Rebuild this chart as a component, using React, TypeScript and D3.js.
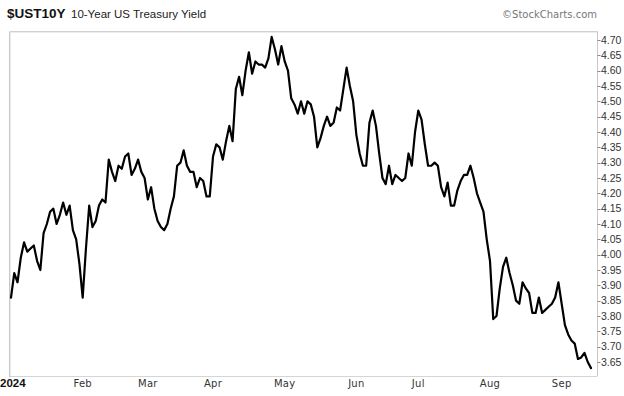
import React from "react";
import * as d3 from "d3";

const title = "$UST10Y";
const subtitle = "10-Year US Treasury Yield";
const credit = "\u00A9StockCharts.com";

const startDate = "2023-12-29";
const holidays = ["2024-01-01", "2024-01-15", "2024-02-19", "2024-03-29", "2024-05-27", "2024-06-19", "2024-07-04", "2024-09-02"];

const yields = [
  3.86, 3.94, 3.91, 3.99, 4.04, 4.01, 4.02, 4.03, 3.98, 3.95,
  4.07, 4.10, 4.14, 4.15, 4.10, 4.13, 4.17, 4.13, 4.16, 4.08,
  4.05, 3.97, 3.86, 4.02, 4.16, 4.09, 4.11, 4.16, 4.18, 4.17,
  4.31, 4.27, 4.24, 4.29, 4.28, 4.32, 4.33, 4.26, 4.28, 4.31,
  4.27, 4.25, 4.18, 4.22, 4.15, 4.11, 4.09, 4.08, 4.10, 4.15,
  4.19, 4.29, 4.30, 4.34, 4.29, 4.27, 4.27, 4.22, 4.25, 4.24,
  4.19, 4.19, 4.32, 4.36, 4.35, 4.31, 4.37, 4.42, 4.37, 4.54,
  4.58, 4.52, 4.60, 4.66, 4.59, 4.63, 4.62, 4.62, 4.61, 4.64,
  4.71, 4.67, 4.62, 4.68, 4.63, 4.60, 4.51, 4.49, 4.46, 4.50,
  4.46, 4.50, 4.49, 4.45, 4.35, 4.38, 4.42, 4.45, 4.42, 4.43,
  4.48, 4.47, 4.54, 4.61, 4.55, 4.50, 4.39, 4.33, 4.29, 4.29,
  4.43, 4.47, 4.42, 4.33, 4.25, 4.23, 4.29, 4.23, 4.26, 4.25,
  4.24, 4.25, 4.33, 4.29, 4.40, 4.47, 4.44, 4.36, 4.29, 4.29,
  4.30, 4.29, 4.22, 4.19, 4.235, 4.16, 4.16, 4.21, 4.24, 4.26,
  4.26, 4.29, 4.25, 4.20, 4.17, 4.14, 4.05, 3.98, 3.79, 3.80,
  3.89, 3.96, 3.99, 3.94, 3.90, 3.85, 3.84, 3.91, 3.89, 3.875,
  3.81, 3.81, 3.86, 3.81, 3.82, 3.83, 3.84, 3.86, 3.91, 3.84,
  3.77, 3.74, 3.72, 3.71, 3.66, 3.665, 3.68, 3.65, 3.63,
];

const yTicks = [4.70, 4.65, 4.60, 4.55, 4.50, 4.45, 4.40, 4.35, 4.30, 4.25, 4.20, 4.15, 4.10, 4.05, 4.00, 3.95, 3.90, 3.85, 3.80, 3.75, 3.70, 3.65];

// build trading-day calendar
const parse = d3.timeParse("%Y-%m-%d");
const fmt = d3.timeFormat("%Y-%m-%d");
const holidaySet = new Set(holidays);
const dates: Date[] = [];
{
  let d = parse(startDate) as Date;
  while (dates.length < yields.length) {
    const wd = d.getDay();
    if (wd !== 0 && wd !== 6 && !holidaySet.has(fmt(d))) dates.push(d);
    d = d3.timeDay.offset(d, 1);
  }
}

const W = 624;
const H = 396;
const frame = { left: 9.5, right: 597.5, top: 31.5, bottom: 376.5 };

export default function App() {
  const x = d3.scaleLinear().domain([0, yields.length - 1]).range([11, 591]);
  const y = d3.scaleLinear().domain([3.65, 4.70]).range([362, 40]);

  const line = d3
    .line<number>()
    .x((_, i) => x(i))
    .y((v) => y(v))
    .curve(d3.curveLinear);

  const monthTicks: { i: number; label: string }[] = [];
  dates.forEach((d, i) => {
    if (i > 0 && d.getMonth() !== dates[i - 1].getMonth()) {
      monthTicks.push({ i, label: d.getMonth() === 0 ? String(d.getFullYear()) : d3.timeFormat("%b")(d) });
    }
  });

  return (
    <svg
      width={W}
      height={H}
      style={{ position: "absolute", left: 0, top: 0, background: "#fff" }}
      xmlns="http://www.w3.org/2000/svg"
    >
      <rect x={0} y={0} width={W} height={H} fill="#fff" />
      <text x={7} y={18} fontFamily="Liberation Sans, Arial, sans-serif" fontWeight="bold" fontSize={13.5} fill="#111">
        {title}
      </text>
      <text x={71} y={18} fontFamily="Liberation Sans, Arial, sans-serif" fontSize={11.5} fill="#222">
        {subtitle}
      </text>
      <text x={597} y={18} textAnchor="end" fontFamily="DejaVu Sans, Verdana, sans-serif" fontSize={10} fill="#777">
        {credit}
      </text>

      {/* frame */}
      <line x1={frame.left} x2={frame.right} y1={frame.top} y2={frame.top} stroke="#d0d0d0" strokeWidth={1} />
      <line x1={frame.left} x2={frame.right} y1={frame.top + 1} y2={frame.top + 1} stroke="#ececec" strokeWidth={1} />
      <line x1={frame.left} x2={frame.left} y1={frame.top} y2={frame.bottom} stroke="#c8c8c8" strokeWidth={1} />
      <line x1={frame.left + 1} x2={frame.left + 1} y1={frame.top} y2={frame.bottom} stroke="#ececec" strokeWidth={1} />
      <line x1={frame.right} x2={frame.right} y1={frame.top} y2={frame.bottom} stroke="#c8c8c8" strokeWidth={1} />
      <line
        x1={frame.left}
        x2={frame.right}
        y1={frame.bottom}
        y2={frame.bottom}
        stroke="#aaa"
        strokeWidth={1}
        strokeDasharray="1,1"
      />

      {/* y axis */}
      {yTicks.map((t) => (
        <g key={t}>
          <line x1={frame.right} x2={frame.right + 3} y1={Math.round(y(t)) + 0.5} y2={Math.round(y(t)) + 0.5} stroke="#888" />
          <text
            x={601}
            y={y(t)}
            dy="0.35em"
            fontFamily="Liberation Sans, Arial, sans-serif"
            fontSize={10.5}
            fill="#333"
          >
            {t.toFixed(2)}
          </text>
        </g>
      ))}

      {/* x axis labels */}
      {monthTicks.map((m) =>
        m.label === "2024" ? (
          <text
            key={m.label}
            x={0}
            y={387}
            fontFamily="Liberation Sans, Arial, sans-serif"
            fontWeight="bold"
            fontSize={11.5}
            fill="#111"
          >
            {m.label}
          </text>
        ) : (
          <text
            key={m.label}
            x={x(m.i)}
            y={387}
            textAnchor="middle"
            fontFamily="DejaVu Sans, Verdana, sans-serif"
            fontSize={10}
            letterSpacing={0.3}
            fill="#333"
          >
            {m.label}
          </text>
        )
      )}

      <path
        d={line(yields) || ""}
        fill="none"
        stroke="#000"
        strokeWidth={2.2}
        strokeLinejoin="round"
        strokeLinecap="round"
      />
    </svg>
  );
}
